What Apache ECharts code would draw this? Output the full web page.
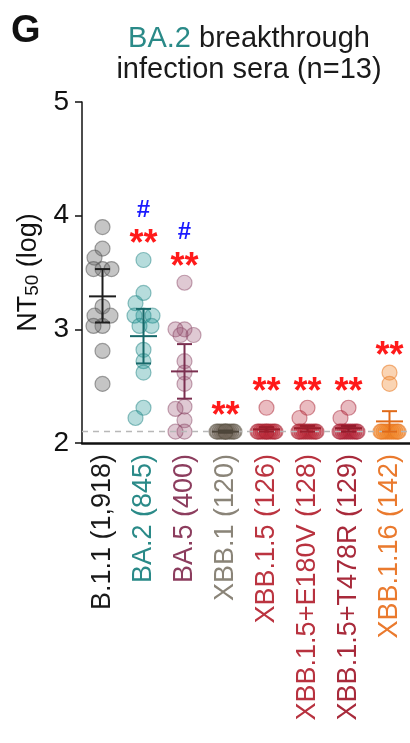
<!DOCTYPE html>
<html>
<head>
<meta charset="utf-8">
<script src="https://cdn.jsdelivr.net/npm/echarts@6/dist/echarts.min.js"></script>
<style>
  html, body { margin: 0; padding: 0; background: #ffffff; }
  #chart { width: 410px; height: 743px; }
</style>
</head>
<body>
<div id="chart"></div>
<script>
// Variant labels (x axis) and log10 NT50 per serum (n = 13 each)
const variants = [
  'B.1.1 (1,918)', 'BA.2 (845)', 'BA.5 (400)', 'XBB.1 (120)',
  'XBB.1.5 (126)', 'XBB.1.5+E180V (128)', 'XBB.1.5+T478R (129)', 'XBB.1.16 (142)'
];
const yTicks = [2, 3, 4, 5];
const detectionLimit = 2.1;

const ntB11     = [3.90, 3.71, 3.63, 3.53, 3.53, 3.53, 3.20, 3.12, 3.12, 3.03, 3.03, 2.81, 2.52];
const ntBA2     = [3.61, 3.32, 3.23, 3.12, 3.12, 3.12, 3.03, 3.03, 2.82, 2.72, 2.62, 2.31, 2.22];
const ntBA5     = [3.41, 3.00, 3.00, 2.95, 2.95, 2.72, 2.62, 2.52, 2.32, 2.30, 2.20, 2.10, 2.10];
const ntXBB1    = [2.10, 2.10, 2.10, 2.10, 2.10, 2.10, 2.10, 2.10, 2.10, 2.10, 2.10, 2.10, 2.10];
const ntXBB15   = [2.31, 2.10, 2.10, 2.10, 2.10, 2.10, 2.10, 2.10, 2.10, 2.10, 2.10, 2.10, 2.10];
const ntE180V   = [2.31, 2.22, 2.10, 2.10, 2.10, 2.10, 2.10, 2.10, 2.10, 2.10, 2.10, 2.10, 2.10];
const ntT478R   = [2.31, 2.22, 2.10, 2.10, 2.10, 2.10, 2.10, 2.10, 2.10, 2.10, 2.10, 2.10, 2.10];
const ntXBB116  = [2.62, 2.52, 2.10, 2.10, 2.10, 2.10, 2.10, 2.10, 2.10, 2.10, 2.10, 2.10, 2.10];

// Geometric mean with its interval (log10)
const gmean = [3.29, 2.94, 2.63, 2.10, 2.12, 2.13, 2.13, 2.19];
const ciLow = [3.06, 2.70, 2.39, 2.09, 2.10, 2.10, 2.10, 2.10];
const ciHigh = [3.53, 3.18, 2.87, 2.11, 2.14, 2.15, 2.15, 2.28];

// Significance marks versus B.1.1 (**) and versus BA.2 (#)
const starMarks = ['', '**', '**', '**', '**', '**', '**', '**'];
const hashMarks = ['', '#', '#', '', '', '', '', ''];

const groups = [ntB11, ntBA2, ntBA5, ntXBB1, ntXBB15, ntE180V, ntT478R, ntXBB116];

// Per-variant palette: point fill, point outline, interval bars, label
const palette = [
  { fill: 'rgba(110,110,110,0.50)', edge: 'rgba(80,80,80,0.65)',   bar: '#1e1e1e', label: '#1a1a1a' },
  { fill: 'rgba(40,150,150,0.42)',  edge: 'rgba(30,130,130,0.6)',  bar: '#17696a', label: '#2a8a88' },
  { fill: 'rgba(150,80,110,0.38)',  edge: 'rgba(130,60,90,0.55)',  bar: '#7b2f50', label: '#8c3d5e' },
  { fill: 'rgba(115,105,92,0.42)',  edge: 'rgba(95,85,72,0.6)',    bar: '#4e463a', label: '#8a8478' },
  { fill: 'rgba(190,45,60,0.40)',   edge: 'rgba(170,35,50,0.6)',   bar: '#9a1e2c', label: '#bb3440' },
  { fill: 'rgba(190,45,60,0.40)',   edge: 'rgba(170,35,50,0.6)',   bar: '#9a1e2c', label: '#b8323f' },
  { fill: 'rgba(185,40,60,0.40)',   edge: 'rgba(165,30,50,0.6)',   bar: '#931c2c', label: '#a82a3b' },
  { fill: 'rgba(242,135,45,0.45)',  edge: 'rgba(232,118,30,0.65)', bar: '#e06a18', label: '#ea7a2e' }
];

const FONT = '"Liberation Sans", Arial, Helvetica, sans-serif';
const grid = { left: 82, right: 0, top: 102, bottom: 300 };
const chartH = 743;
const pxPerUnit = (chartH - grid.top - grid.bottom) / (yTicks[yTicks.length - 1] - yTicks[0]);

// Small beeswarm: spread overlapping points sideways (pixel offsets)
function swarm(values) {
  const minDist = 11;
  const cands = [0, -8, 8, -4, 4, -9, 9, -2, 2, -6, 6];
  const placed = [];
  return values.map(v => {
    const y = v * pxPerUnit;
    let best = 0, bestScore = -1;
    for (const dx of cands) {
      let d = Infinity;
      for (const p of placed) d = Math.min(d, Math.hypot(p.x - dx, p.y - y));
      if (d >= minDist) { best = dx; bestScore = Infinity; break; }
      if (d > bestScore) { bestScore = d; best = dx; }
    }
    placed.push({ x: best, y: y });
    return best;
  });
}

const pointSeries = groups.map((vals, i) => {
  const offs = swarm(vals);
  return {
    type: 'scatter',
    symbol: 'circle',
    symbolSize: 15,
    z: 3,
    itemStyle: { color: palette[i].fill, borderColor: palette[i].edge, borderWidth: 1.2 },
    data: vals.map((v, k) => ({ value: [i, v], symbolOffset: [offs[k], 0] })),
    silent: true
  };
});

const intervalSeries = {
  type: 'custom',
  z: 5,
  silent: true,
  data: gmean.map((m, i) => [i, m, ciLow[i], ciHigh[i]]),
  renderItem(params, api) {
    const i = api.value(0);
    const pm = api.coord([i, api.value(1)]);
    const pl = api.coord([i, api.value(2)]);
    const ph = api.coord([i, api.value(3)]);
    const style = { stroke: palette[i].bar, lineWidth: 2 };
    const x = pm[0];
    return {
      type: 'group',
      children: [
        { type: 'line', shape: { x1: x, y1: pl[1], x2: x, y2: ph[1] }, style },
        { type: 'line', shape: { x1: x - 7.5, y1: ph[1], x2: x + 7.5, y2: ph[1] }, style },
        { type: 'line', shape: { x1: x - 7.5, y1: pl[1], x2: x + 7.5, y2: pl[1] }, style },
        { type: 'line', shape: { x1: x - 13.5, y1: pm[1], x2: x + 13.5, y2: pm[1] }, style }
      ]
    };
  }
};

const markSeries = {
  type: 'custom',
  z: 6,
  silent: true,
  data: groups.map((vals, i) => [i, Math.max(...vals)]),
  renderItem(params, api) {
    const i = api.value(0);
    const p = api.coord([i, api.value(1)]);
    const kids = [];
    if (starMarks[i]) {
      kids.push({ type: 'text', style: {
        text: starMarks[i], x: p[0], y: p[1] - 15, align: 'center', verticalAlign: 'middle',
        fill: '#ff1a1a', font: 'bold 36px ' + FONT } });
    }
    if (hashMarks[i]) {
      kids.push({ type: 'text', style: {
        text: hashMarks[i], x: p[0], y: p[1] - 50, align: 'center', verticalAlign: 'middle',
        fill: '#1a1aff', font: 'bold 24px ' + FONT } });
    }
    return { type: 'group', children: kids };
  }
};

const limitSeries = {
  type: 'line',
  data: [],
  silent: true,
  markLine: {
    silent: true,
    symbol: 'none',
    label: { show: false },
    lineStyle: { color: '#b8b8b8', type: [6, 5], width: 1.3 },
    data: [{ yAxis: detectionLimit }]
  }
};

const chart = echarts.init(document.getElementById('chart'), null, { renderer: 'canvas' });
chart.setOption({
  animation: false,
  backgroundColor: '#ffffff',
  grid: grid,
  graphic: [
    { type: 'text', left: 11, top: 13, style: { text: 'G', font: 'bold 38px ' + FONT, fill: '#111' } },
    { type: 'text', x: 249, y: 23, style: {
        text: '{t|BA.2}{k| breakthrough}\n{k|infection sera (n=13)}',
        align: 'center',
        rich: {
          t: { fill: '#2a8a88', fontSize: 29, fontFamily: FONT, lineHeight: 31 },
          k: { fill: '#1a1a1a', fontSize: 29, fontFamily: FONT, lineHeight: 31 }
        }
      } }
  ],
  xAxis: {
    type: 'category',
    data: variants.map((v, i) => ({ value: v, textStyle: { color: palette[i].label } })),
    boundaryGap: true,
    axisLine: { lineStyle: { color: '#111', width: 2.5 } },
    axisTick: { show: false },
    axisLabel: { rotate: 90, margin: 11, fontSize: 27, fontFamily: FONT, interval: 0 },
    splitLine: { show: false }
  },
  yAxis: {
    type: 'value',
    min: yTicks[0],
    max: yTicks[yTicks.length - 1],
    interval: 1,
    name: '{a|NT}{b|50}{a| (log)}',
    nameLocation: 'middle',
    nameRotate: 90,
    nameGap: 38,
    nameTextStyle: {
      rich: {
        a: { fontSize: 27, fontFamily: FONT, color: '#111' },
        b: { fontSize: 19, fontFamily: FONT, color: '#111', verticalAlign: 'bottom', padding: [8, 0, 0, 0] }
      }
    },
    axisLine: { show: true, lineStyle: { color: '#111', width: 1.5 } },
    axisTick: { show: true, length: 7, lineStyle: { color: '#111', width: 1.5 } },
    axisLabel: { fontSize: 28, fontFamily: FONT, color: '#111', margin: 13 },
    splitLine: { show: false }
  },
  series: [limitSeries, ...pointSeries, intervalSeries, markSeries]
});
</script>
</body>
</html>
